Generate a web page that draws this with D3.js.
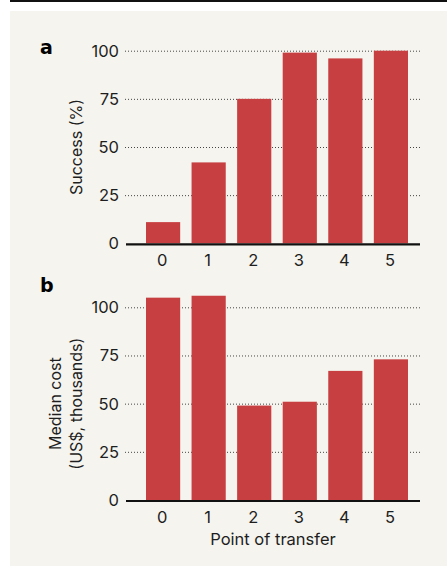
<!DOCTYPE html>
<html>
<head>
<meta charset="utf-8">
<script src="https://cdn.jsdelivr.net/npm/d3@7"></script>
<style>
  html, body { margin: 0; padding: 0; background: #fff; }
  svg { display: block; }
</style>
</head>
<body>
<div id="chart"></div>
<script>
// Données
const transferPoints = ['0', '1', '2', '3', '4', '5']
const successPct     = [11, 42, 75, 99, 96, 100]
const medianCostK    = [105, 106, 49, 51, 67, 73]
const yTicks         = [0, 25, 50, 75, 100]

const COLORS = {
  bg:   '#f5f4ee',
  bar:  '#c83f42',
  text: '#1e1e1e',
  grid: '#444444',
  axis: '#111111',
}

const W = 447, H = 566
const FONT = "Inter, 'Noto Sans', sans-serif"

const svg = d3.select('#chart')
  .append('svg')
  .attr('width', W)
  .attr('height', H)

// Filet noir en haut + fond beige
svg.append('rect')
  .attr('x', 10).attr('y', 0)
  .attr('width', W - 10).attr('height', 2)
  .attr('fill', '#111')

svg.append('rect')
  .attr('x', 10).attr('y', 11)
  .attr('width', W - 10).attr('height', H - 11)
  .attr('fill', COLORS.bg)

// Échelle x commune aux deux panneaux
const x = d3.scaleBand()
  .domain(transferPoints)
  .range([146, 408])
  .paddingInner(0.25)
  .paddingOuter(0)

function panel({ values, top, bottom, letter, letterY, yLabelLines, tickLabelY }) {
  const y = d3.scaleLinear().domain([0, 100]).range([bottom, top])
  const g = svg.append('g')

  // Grille pointillée — derrière les barres
  g.append('g')
    .attr('transform', 'translate(125,0)')
    .call(d3.axisLeft(y).tickValues(yTicks.filter(d => d > 0)).tickSize(-297).tickFormat(''))
    .call(g => g.select('.domain').remove())
    .call(g => g.selectAll('.tick line')
      .attr('stroke', COLORS.grid)
      .attr('stroke-width', 1)
      .attr('stroke-dasharray', '1 2'))

  // Barres
  g.selectAll('rect.bar')
    .data(values)
    .join('rect')
    .attr('class', 'bar')
    .attr('x', (d, i) => x(transferPoints[i]))
    .attr('width', x.bandwidth())
    .attr('y', d => y(d))
    .attr('height', d => bottom - y(d))
    .attr('fill', COLORS.bar)

  // Ligne de base
  g.append('line')
    .attr('x1', 126).attr('x2', 420)
    .attr('y1', bottom + 1).attr('y2', bottom + 1)
    .attr('stroke', COLORS.axis)
    .attr('stroke-width', 2.2)

  // Étiquettes de l'axe Y
  g.selectAll('text.ytick')
    .data(yTicks)
    .join('text')
    .attr('class', 'ytick')
    .attr('x', 119)
    .attr('y', d => y(d))
    .attr('dy', '0.36em')
    .attr('text-anchor', 'end')
    .attr('font-family', FONT)
    .attr('font-size', 16.5)
    .attr('fill', COLORS.text)
    .text(d => d)

  // Étiquettes de l'axe X
  g.selectAll('text.xtick')
    .data(transferPoints)
    .join('text')
    .attr('class', 'xtick')
    .attr('x', d => x(d) + x.bandwidth() / 2 - 1)
    .attr('y', tickLabelY)
    .attr('text-anchor', 'middle')
    .attr('font-family', FONT)
    .attr('font-size', 16.5)
    .attr('fill', COLORS.text)
    .text(d => d)

  // Titre de l'axe Y (rotation)
  const cy = (top + bottom) / 2
  const n = yLabelLines.length
  yLabelLines.forEach((line, i) => {
    const bx = 81.5 - (n - 1 - i) * 21
    g.append('text')
      .attr('transform', `translate(${bx},${cy}) rotate(-90)`)
      .attr('text-anchor', 'middle')
      .attr('font-family', FONT)
      .attr('font-size', 16)
      .attr('fill', COLORS.text)
      .text(line)
  })

  // Lettre du panneau
  g.append('text')
    .attr('x', 40).attr('y', letterY)
    .attr('font-family', "'DejaVu Sans', sans-serif")
    .attr('font-weight', 'bold')
    .attr('font-size', 19)
    .attr('fill', '#000')
    .text(letter)
}

panel({
  values: successPct, top: 50.7, bottom: 243.3,
  letter: 'a', letterY: 54,
  yLabelLines: ['Success (%)'],
  tickLabelY: 266,
})

panel({
  values: medianCostK, top: 307.3, bottom: 500,
  letter: 'b', letterY: 292,
  yLabelLines: ['Median cost', '(US$, thousands)'],
  tickLabelY: 523,
})

// Titre de l'axe X
svg.append('text')
  .attr('x', 273).attr('y', 545)
  .attr('text-anchor', 'middle')
  .attr('font-family', FONT)
  .attr('font-size', 16.5)
  .attr('fill', COLORS.text)
  .text('Point of transfer')
</script>
</body>
</html>
